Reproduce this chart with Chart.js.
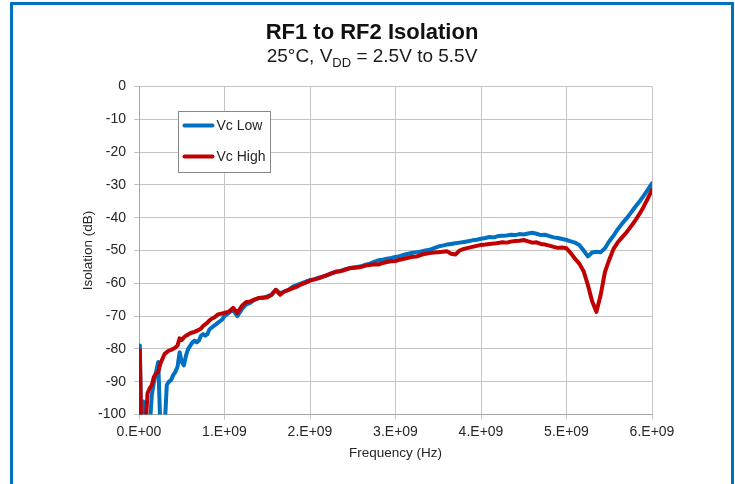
<!DOCTYPE html>
<html>
<head>
<meta charset="utf-8">
<script src="https://cdn.jsdelivr.net/npm/chart.js@4.4.1/dist/chart.umd.min.js"></script>
<style>
  html, body { margin: 0; padding: 0; background: #fff; }
  #wrap { position: relative; width: 735px; height: 484px; overflow: hidden; }
  #frame { position: absolute; left: 10px; top: 2px; width: 718px; height: 600px;
           border: 3px solid #0071bc; border-bottom: none; }
  #chart { position: absolute; left: 0; top: 0; }
</style>
</head>
<body>
<div id="wrap">
  <div id="frame"></div>
  <canvas id="chart" width="735" height="484"></canvas>
</div>
<script>
// frequency points, GHz
const freqGHz = [
  0.01, 0.025, 0.05, 0.075, 0.1, 0.125, 0.15, 0.175, 0.2, 0.225,
  0.25, 0.275, 0.3, 0.325, 0.35, 0.375, 0.4, 0.425, 0.45, 0.475,
  0.5, 0.525, 0.55, 0.575, 0.6, 0.625, 0.65, 0.675, 0.7, 0.725,
  0.75, 0.775, 0.8, 0.825, 0.85, 0.875, 0.9, 0.925, 0.95, 0.975,
  1.0,
  1.05, 1.1, 1.15, 1.2, 1.25, 1.3, 1.35, 1.4, 1.45, 1.5,
  1.55, 1.6, 1.65, 1.7, 1.75, 1.8, 1.85, 1.9, 1.95, 2.0,
  2.05, 2.1, 2.15, 2.2, 2.25, 2.3, 2.35, 2.4, 2.45, 2.5,
  2.55, 2.6, 2.65, 2.7, 2.75, 2.8, 2.85, 2.9, 2.95, 3.0,
  3.05, 3.1, 3.15, 3.2, 3.25, 3.3, 3.35, 3.4, 3.45, 3.5,
  3.55, 3.6, 3.65, 3.7, 3.75, 3.8, 3.85, 3.9, 3.95, 4.0,
  4.05, 4.1, 4.15, 4.2, 4.25, 4.3, 4.35, 4.4, 4.45, 4.5,
  4.55, 4.6, 4.65, 4.7, 4.75, 4.8, 4.85, 4.9, 4.95, 5.0,
  5.05, 5.1, 5.15, 5.2, 5.25, 5.3, 5.35, 5.4, 5.45, 5.5,
  5.55, 5.6, 5.65, 5.7, 5.75, 5.8, 5.85, 5.9, 5.95, 6.0
];

// isolation, dB (values below -100 fall off the axis)
const vcLow = [
  -79, -104, -96, -104, -104, -104, -94, -90, -87, -84,
  -104, -104, -104, -91, -90, -89.5, -88, -87, -85.5, -81,
  -84, -85, -82, -80, -79, -78, -77.5, -78, -77.5, -76,
  -75.5, -76, -75.5, -74, -73.5, -73, -72.5, -72, -71.5, -71,
  -70,
  -69, -68, -70, -68, -66.5, -66, -65, -64.5, -64.5, -64,
  -63.5, -62, -63, -62.5, -62, -61, -60.5, -60, -59.5, -59,
  -58.8, -58.3, -58, -57.5, -57, -56.5, -56.3, -55.8, -55.5, -55.2,
  -55, -54.8, -54.3, -54, -53.5, -53, -52.8, -52.5, -52.3, -52,
  -51.7, -51.3, -51, -50.7, -50.5, -50.3, -50, -49.8, -49.3, -48.8,
  -48.5, -48.2, -48, -47.8, -47.6, -47.4, -47.2, -46.9, -46.7, -46.4,
  -46.2, -45.9, -46, -45.6, -45.5, -45.4, -45.2, -45.3, -45, -45.1,
  -44.8, -44.6, -44.9, -45.3, -45.2, -45.6, -46, -46.2, -46.5, -46.8,
  -47.2, -47.6, -48.3, -50, -51.8, -50.6, -50.4, -50.5, -49.3, -47.2,
  -45.5, -43.5, -41.8, -40.3, -38.6, -36.8, -35.2, -33.4, -31.5, -29.5
];

const vcHigh = [
  -80.5, -104, -104, -104, -93.5, -92, -91, -88.5, -87.5, -87,
  -84.5, -83, -81.5, -81, -80.5, -80.3, -80, -79.6, -79, -76.8,
  -77.3, -76.5, -76, -75.6, -75.2, -75, -74.8, -74.5, -74.2, -73.8,
  -73, -72.5, -72, -71.3, -70.8, -70.5, -70, -69.5, -69.3, -69.2,
  -69,
  -68.7, -67.5, -69, -67, -65.8, -65.5, -65, -64.5, -64.3, -64.3,
  -63.5, -62, -63.5, -62.5, -62, -61.5, -61, -60.3, -59.8, -59.2,
  -58.8, -58.5, -58, -57.5, -57, -56.5, -56.3, -56, -55.5, -55.3,
  -55.2, -55, -54.6, -54.4, -54.2, -54.3, -53.8, -53.5, -53.3, -53.2,
  -52.8, -52.5, -52.2, -51.9, -51.8, -51.3, -51, -50.8, -50.6, -50.5,
  -50.4, -50.2, -51, -51.2, -50, -49.5, -49.2, -48.9, -48.6, -48.3,
  -48.2, -48, -47.9, -47.7, -47.5, -47.6, -47.3, -47.1, -47, -46.8,
  -47.2, -47.6, -47.5, -48, -48.2, -48.5, -48.9, -49.2, -49.1, -49.3,
  -50.8, -52.5, -54, -56.3, -60.5, -65.5, -68.7, -63.5, -56.5, -52.8,
  -49.5, -47.5, -46, -44.5, -42.8, -41, -39, -36.8, -34.2, -31.5
];

const xTickLabels = ['0.E+00', '1.E+09', '2.E+09', '3.E+09', '4.E+09', '5.E+09', '6.E+09'];
const seriesNames = ['Vc Low', 'Vc High'];
const titleText = 'RF1 to RF2 Isolation';
const subtitleParts = ['25°C, V', 'DD', ' = 2.5V to 5.5V'];

const FONT = '"Liberation Sans", Arial, sans-serif';
const gridColor = '#c4c4c4';
const textColor = '#262626';

// subtitle with the DD subscript
const subtitlePlugin = {
  id: 'subtitleVdd',
  afterDraw(chart) {
    const ctx = chart.ctx;
    const t = chart.titleBlock;
    const cx = (t.left + t.right) / 2;
    const parts = [
      [subtitleParts[0], '19px ' + FONT, 0],
      [subtitleParts[1], '13px ' + FONT, 5],
      [subtitleParts[2], '19px ' + FONT, 0]
    ];
    ctx.save();
    let total = 0;
    parts.forEach(p => { ctx.font = p[1]; total += ctx.measureText(p[0]).width; });
    let x = cx - total / 2;
    ctx.fillStyle = '#1a1a1a';
    ctx.textBaseline = 'alphabetic';
    parts.forEach(p => {
      ctx.font = p[1];
      ctx.fillText(p[0], x, 62 + p[2]);
      x += ctx.measureText(p[0]).width;
    });
    ctx.restore();
  }
};

// boxed legend inside the plot, top left
const boxLegend = {
  id: 'boxLegend',
  afterDatasetsDraw(chart) {
    const ctx = chart.ctx;
    const a = chart.chartArea;
    const x0 = Math.round(a.left + 39) + 0.5, y0 = Math.round(a.top + 24) + 0.5;
    const w = 92, h = 61;
    ctx.save();
    ctx.fillStyle = '#fff';
    ctx.fillRect(x0, y0, w, h);
    ctx.strokeStyle = '#868686';
    ctx.lineWidth = 1;
    ctx.strokeRect(x0, y0, w, h);
    chart.data.datasets.forEach((ds, i) => {
      const y = y0 + 14 + i * 31;
      ctx.strokeStyle = ds.borderColor;
      ctx.lineWidth = 4;
      ctx.lineCap = 'round';
      ctx.beginPath();
      ctx.moveTo(x0 + 6, y);
      ctx.lineTo(x0 + 34, y);
      ctx.stroke();
      ctx.fillStyle = textColor;
      ctx.font = '14px ' + FONT;
      ctx.textBaseline = 'middle';
      ctx.fillText(ds.label, x0 + 38, y + 1);
    });
    ctx.restore();
  }
};

const toPoints = vals => freqGHz.map((f, i) => ({ x: f * 1e9, y: vals[i] }));

new Chart(document.getElementById('chart').getContext('2d'), {
  type: 'line',
  data: {
    datasets: [
      {
        label: seriesNames[0],
        data: toPoints(vcLow),
        borderColor: '#0070c0',
        borderWidth: 4,
        order: 1
      },
      {
        label: seriesNames[1],
        data: toPoints(vcHigh),
        borderColor: '#c00000',
        borderWidth: 4,
        order: 0
      }
    ]
  },
  options: {
    responsive: false,
    animation: false,
    devicePixelRatio: 1,
    layout: { padding: { left: 9, right: 0, top: 0, bottom: 0 } },
    elements: {
      point: { radius: 0 },
      line: { tension: 0, borderJoinStyle: 'round', borderCapStyle: 'round' }
    },
    datasets: { line: { clip: 0 } },
    plugins: {
      legend: { display: false },
      tooltip: { enabled: false },
      title: {
        display: true,
        text: titleText,
        color: '#111',
        font: { family: FONT, size: 22, weight: 'bold', lineHeight: 1.2 },
        padding: { top: 19.5, bottom: 40.6 }
      }
    },
    scales: {
      x: {
        type: 'linear',
        min: 0,
        max: 6e9,
        ticks: {
          stepSize: 1e9,
          maxRotation: 0,
          padding: 4,
          color: textColor,
          font: { family: FONT, size: 14 },
          callback: (v, i) => xTickLabels[i]
        },
        grid: { color: gridColor, tickLength: 5 },
        border: { color: '#a6a6a6' },
        title: {
          display: true,
          text: 'Frequency (Hz)',
          color: textColor,
          font: { family: FONT, size: 13.5 },
          padding: { top: 0, bottom: 23 }
        },
        afterFit: s => { s.height = 69.5; }
      },
      y: {
        min: -100,
        max: 0,
        ticks: {
          stepSize: 10,
          padding: 8,
          color: textColor,
          font: { family: FONT, size: 14 }
        },
        grid: { color: gridColor, tickLength: 5 },
        border: { color: '#a6a6a6' },
        title: {
          display: true,
          text: 'Isolation (dB)',
          color: textColor,
          font: { family: FONT, size: 13.5 },
          padding: { top: 71, bottom: 0 }
        },
        afterFit: s => { s.width = 130; }
      },
      yR: {
        position: 'right',
        grid: { display: false },
        ticks: { display: false },
        border: { display: false },
        afterFit: s => { s.width = 83; }
      }
    }
  },
  plugins: [subtitlePlugin, boxLegend]
});
</script>
</body>
</html>
